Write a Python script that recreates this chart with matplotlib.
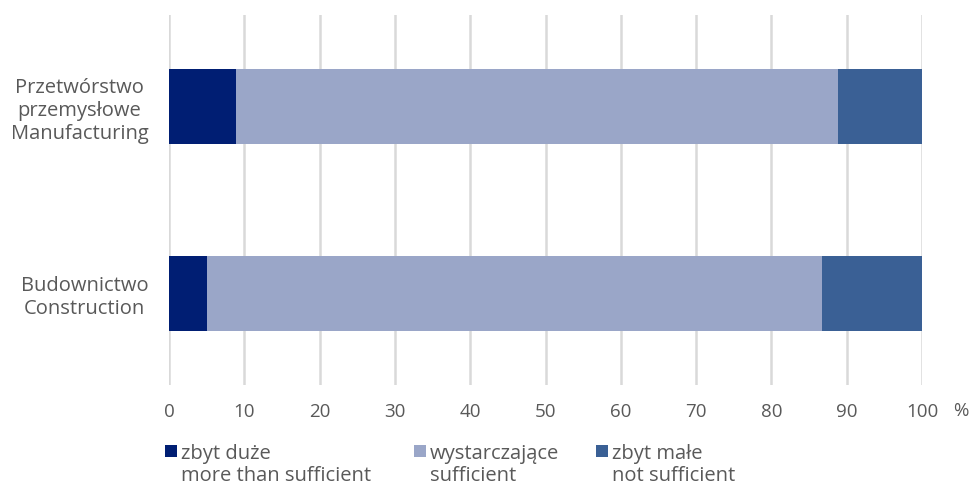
import matplotlib
matplotlib.use("Agg")
import matplotlib.pyplot as plt
from matplotlib.patches import Rectangle
from matplotlib.transforms import ScaledTranslation

plt.rcParams['font.family'] = ['Open Sans', 'DejaVu Sans']

categories = ["Przetwórstwo\nprzemysłowe\nManufacturing", "Budownictwo\nConstruction"]
series_names = ["zbyt duże\nmore than sufficient", "wystarczające\nsufficient", "zbyt małe\nnot sufficient"]
more_than = [8.9, 5.0]
sufficient = [79.9, 81.7]
not_suff = [11.2, 13.3]
colors = ["#001E73", "#9AA6C8", "#3A6095"]
xticks = [0, 10, 20, 30, 40, 50, 60, 70, 80, 90, 100]

TXT = "#595959"
FS_TICK = 13.5
FS = 14.5

fig = plt.figure(figsize=(9.72, 4.87), dpi=100)
ax = fig.add_axes([0.174, 0.209, 0.7746, 0.76])

y = list(range(len(categories)))
left = [0.0] * len(categories)
for vals, c in zip([more_than, sufficient, not_suff], colors):
    ax.barh(y, vals, left=left, height=0.4, color=c, zorder=3)
    left = [l + v for l, v in zip(left, vals)]

ax.set_xlim(0, 100)
ax.set_ylim(1.49, -0.49)
ax.set_xticks(xticks)
ax.set_xticklabels([str(t) for t in xticks], fontsize=FS_TICK, color=TXT)
ax.set_yticks(y)
ax.set_yticklabels(categories, fontsize=FS, color=TXT, ha="right",
                   multialignment="center", linespacing=1.2)
for lab in ax.get_yticklabels():
    lab.set_transform(lab.get_transform() + ScaledTranslation(0, 0.04, fig.dpi_scale_trans))
ax.tick_params(axis='both', length=0)
ax.tick_params(axis='x', pad=13)
ax.tick_params(axis='y', pad=15)
ax.xaxis.grid(True, color="#D9D9D9", linewidth=1.8, zorder=0)
for s in ax.spines.values():
    s.set_visible(False)

fig.text(0.988, 1 - 411 / 487, "%", fontsize=FS_TICK, color=TXT, ha="center", va="center")

leg_x = [165 / 972, 414 / 972, 596 / 972]
for lx, name, c in zip(leg_x, series_names, colors):
    fig.patches.append(Rectangle((lx, 1 - 457 / 487), 12 / 972, 12 / 487,
                                 transform=fig.transFigure,
                                 facecolor=c, edgecolor="none"))
    fig.text(lx + 16 / 972, 1 - 444 / 487, name, fontsize=FS, color=TXT,
             ha="left", va="top", linespacing=1.12)

fig.savefig("out.png", dpi=100)
